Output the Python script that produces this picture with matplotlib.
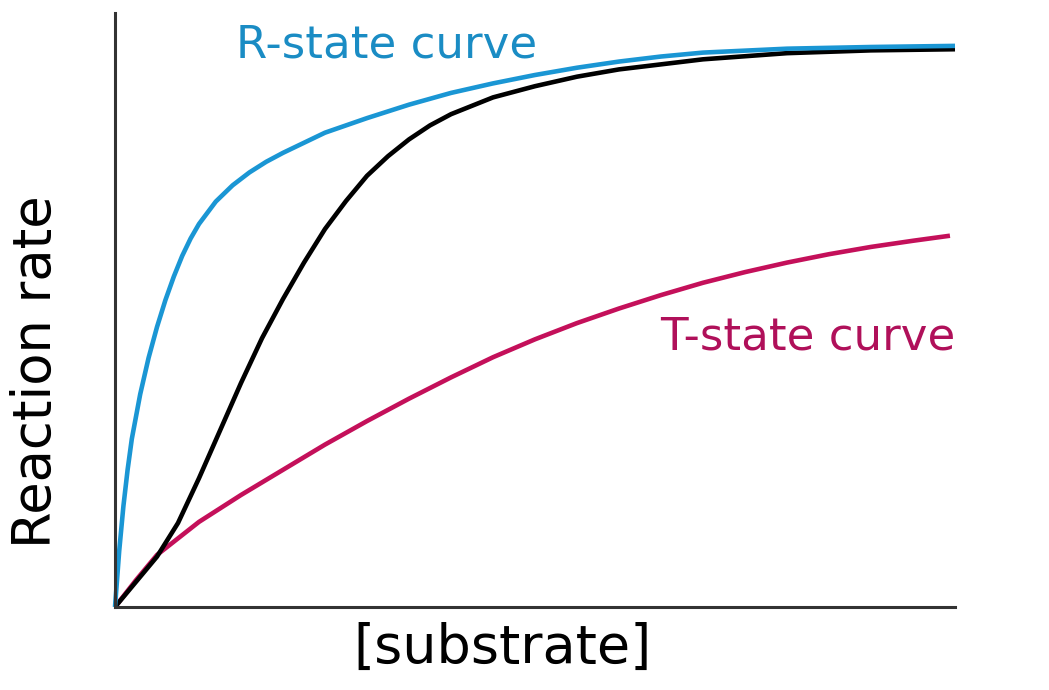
import matplotlib
matplotlib.use("Agg")
import matplotlib.pyplot as plt

# (x: substrate, arbitrary 0-10; y: rate, 1 = plateau)
r_x = [0, 0.05, 0.10, 0.15, 0.20, 0.30, 0.40, 0.50, 0.60, 0.70, 0.80, 0.90, 1.00, 1.20,
       1.40, 1.60, 1.80, 2.00, 2.50, 3.00, 3.50, 4.00, 4.50, 5.00, 5.50, 6.00, 6.50, 7.00,
       8.00, 9.00, 10.0]
r_y = [0, 0.100, 0.180, 0.245, 0.300, 0.380, 0.445, 0.500, 0.548, 0.590, 0.627, 0.658,
       0.684, 0.724, 0.753, 0.776, 0.795, 0.811, 0.847, 0.873, 0.897, 0.918, 0.935, 0.950,
       0.963, 0.974, 0.983, 0.990, 0.997, 1.000, 1.002]

obs_x = [0, 0.25, 0.50, 0.75, 1.00, 1.25, 1.50, 1.75, 2.00, 2.25, 2.50, 2.75, 3.00, 3.25,
         3.50, 3.75, 4.00, 4.50, 5.00, 5.50, 6.00, 7.00, 8.00, 9.00, 10.0]
obs_y = [0, 0.045, 0.090, 0.150, 0.230, 0.315, 0.400, 0.480, 0.550, 0.615, 0.675, 0.725,
         0.770, 0.805, 0.835, 0.860, 0.880, 0.910, 0.930, 0.947, 0.960, 0.978, 0.989, 0.994,
         0.996]

t_x = [0, 0.25, 0.50, 1.00, 1.50, 2.00, 2.50, 3.00, 3.50, 4.00, 4.50, 5.00, 5.50, 6.00,
       6.50, 7.00, 7.50, 8.00, 8.50, 9.00, 9.50, 9.94]
t_y = [0, 0.048, 0.093, 0.152, 0.200, 0.245, 0.290, 0.332, 0.372, 0.410, 0.446, 0.478,
       0.507, 0.533, 0.557, 0.579, 0.598, 0.615, 0.630, 0.643, 0.654, 0.663]

labels = ["R-state curve", "T-state curve"]
x_label = "[substrate]"
y_label = "Reaction rate"

BLUE = "#1a96d4"
MAGENTA = "#c4105a"

fig = plt.figure(figsize=(10.49, 6.90), dpi=100)
ax = fig.add_axes([115/1049, 1 - 607/690, 840/1049, 594/690])

kw = dict(lw=3.3, solid_joinstyle="round", solid_capstyle="butt", clip_on=False)
ax.plot(t_x, t_y, color=MAGENTA, **kw)
ax.plot(obs_x, obs_y, color="black", **kw)
ax.plot(r_x, r_y, color=BLUE, **kw)

ax.set_xlim(0, 10)
ax.set_ylim(0, 594/560)
for s in ["top", "right"]:
    ax.spines[s].set_visible(False)
for s in ["left", "bottom"]:
    ax.spines[s].set_linewidth(2.2)
    ax.spines[s].set_color("#333333")
ax.set_xticks([])
ax.set_yticks([])

ax.text(1.44, 0.982, labels[0], color="#1a8cc4", fontsize=32.5, ha="left", va="baseline",
        family="DejaVu Sans")
ax.text(10.0, 0.459, labels[1], color="#b0105a", fontsize=32.5, ha="right", va="baseline",
        family="DejaVu Sans")

fig.text(503/1049, 1 - 648/690, x_label, fontsize=39, ha="center", va="center",
         family="DejaVu Sans")
fig.text(36/1049, 1 - 372/690, y_label, fontsize=38, ha="center", va="center",
         rotation=90, family="DejaVu Sans")

fig.savefig("out.png", dpi=100, facecolor="white")
